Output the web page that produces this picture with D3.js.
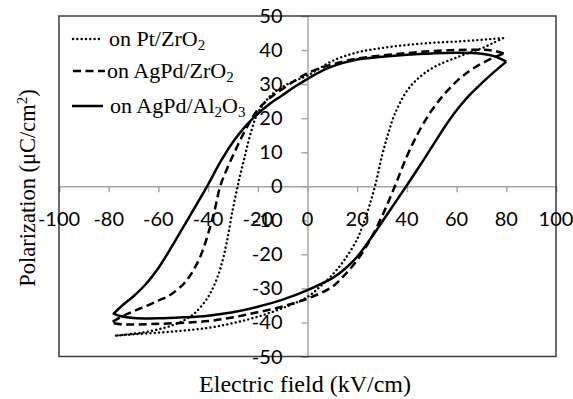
<!DOCTYPE html>
<html>
<head>
<meta charset="utf-8">
<script src="https://cdn.jsdelivr.net/npm/d3@7"></script>
<style>
  body { margin: 0; background: #fff; }
  #container { width: 573px; height: 399px; }
</style>
</head>
<body>
<div id="container"></div>
<script>
// tick values
let xTicks = [-100, -80, -60, -40, -20, 0, 20, 40, 60, 80, 100];
let yTicks = [-50, -40, -30, -20, -10, 0, 10, 20, 30, 40, 50];

// on Pt/ZrO2 (dotted) - upper branch (field going down), lower branch (field going up)
let ptUpE = [78.7, 75, 70, 60, 50, 40, 30, 20, 10, 0, -5, -10, -15, -20, -22.5, -25, -27.5, -30, -32.5, -35, -37.5, -40, -45, -50, -55, -60, -65, -70, -77.5];
let ptUpP = [43.5, 43.3, 43.0, 42.5, 42.1, 41.5, 40.6, 39.3, 36.8, 32.5, 31.0, 29.2, 26.5, 21.5, 16.5, 9.5, 2.0, -6.5, -16.5, -24.0, -29.0, -32.5, -37.0, -39.5, -41.0, -42.0, -42.8, -43.3, -43.9];
let ptLoE = [-77.5, -70, -60, -50, -40, -30, -20, -10, 0, 5, 10, 15, 20, 22.5, 25, 27.5, 30, 32.5, 35, 40, 45, 50, 55, 60, 65, 70, 75, 78.7];
let ptLoP = [-43.9, -43.5, -43.0, -42.4, -41.6, -40.2, -38.3, -35.8, -32.5, -29.5, -26.0, -21.5, -15.5, -11.0, -5.5, 1.0, 9.0, 15.5, 21.0, 28.0, 32.0, 34.6, 36.4, 37.8, 39.2, 40.5, 42.2, 43.5];

// on AgPd/ZrO2 (dashed)
let agzUpE = [79, 75, 70, 60, 50, 40, 30, 20, 10, 0, -10, -15, -20, -25, -30, -35, -37.5, -40, -42.5, -45, -47.5, -50, -55, -60, -65, -70, -75, -79];
let agzUpP = [39.0, 39.8, 40.1, 40.0, 39.7, 39.1, 38.4, 37.5, 35.8, 33.2, 28.6, 26.0, 22.5, 16.5, 9.0, 0.3, -7.5, -14.0, -19.5, -23.5, -26.5, -28.8, -31.8, -33.6, -35.2, -36.7, -38.4, -40.1];
let agzLoE = [-79, -75, -70, -60, -50, -40, -30, -20, -10, 0, 10, 15, 20, 25, 30, 35, 40, 45, 50, 55, 60, 65, 70, 75, 79];
let agzLoP = [-40.1, -40.5, -40.6, -40.4, -40.1, -39.6, -38.5, -37.0, -35.3, -33.0, -29.5, -26.0, -21.7, -16.0, -8.8, -0.3, 8.8, 16.3, 22.3, 27.0, 30.8, 33.8, 36.0, 37.8, 39.0];

// on AgPd/Al2O3 (solid)
let agaUpE = [80, 75, 70, 60, 50, 40, 30, 20, 10, 5, 0, -5, -10, -15, -20, -25, -30, -35, -40, -45, -50, -55, -60, -65, -70, -75, -78];
let agaUpP = [36.6, 38.2, 38.9, 39.2, 39.0, 38.6, 38.0, 37.2, 35.2, 33.6, 31.5, 29.3, 26.8, 24.3, 21.3, 17.6, 13.0, 7.2, 0.5, -5.8, -12.0, -18.2, -24.0, -28.7, -32.3, -35.3, -37.4];
let agaLoE = [-78, -75, -70, -60, -50, -40, -30, -20, -10, 0, 10, 15, 20, 25, 30, 35, 40, 45, 50, 55, 60, 65, 70, 75, 80];
let agaLoP = [-37.4, -38.2, -38.7, -38.8, -38.5, -38.0, -37.0, -35.4, -33.3, -30.5, -27.0, -24.3, -20.7, -15.8, -10.5, -5.1, 0.3, 5.8, 11.5, 17.2, 22.3, 26.6, 30.2, 33.5, 36.6];

let w = 573,
    h = 399;

let viz = d3.select('#container')
    .append('svg')
      .attr('width', w)
      .attr('height', h)
      .style('background', '#ffffff');

let plotL = 59, plotR = 556, plotT = 16, plotB = 356.5;

let x = d3.scaleLinear().domain([-100, 100]).range([plotL, plotR]);
let y = d3.scaleLinear().domain([-50, 50]).range([plotB, plotT]);

function pts(es, ps) {
    return es.map((e, i) => [e, ps[i]]);
}

function main() {
    let tickFont = 'Lato, "Open Sans", sans-serif';
    let serif = '"Liberation Serif", "Times New Roman", serif';

    // zero axes with ticks
    let xAxis = d3.axisBottom(x).tickValues(xTicks).tickSize(6).tickFormat('');
    viz.append('g')
        .attr('transform', 'translate(0,' + y(0) + ')')
        .call(xAxis)
        .call(g => g.selectAll('path, line').attr('stroke', '#a6a6a6').attr('stroke-width', 1.5));

    let yAxis = d3.axisLeft(y).tickValues(yTicks).tickSize(6).tickFormat('');
    viz.append('g')
        .attr('transform', 'translate(' + x(0) + ',0)')
        .call(yAxis)
        .call(g => g.selectAll('path, line').attr('stroke', '#a6a6a6').attr('stroke-width', 1.5));

    // frame
    viz.append('rect')
        .attr('x', plotL).attr('y', plotT)
        .attr('width', plotR - plotL).attr('height', plotB - plotT)
        .attr('fill', 'none')
        .attr('stroke', '#3c3c3c')
        .attr('stroke-width', 1.5);

    // tick labels
    viz.append('g').selectAll('text')
        .data(xTicks)
        .join('text')
        .attr('x', d => x(d))
        .attr('y', y(0) + 40)
        .attr('text-anchor', 'middle')
        .attr('font-family', tickFont)
        .attr('font-size', 20)
        .attr('fill', '#000')
        .text(d => d);

    viz.append('g').selectAll('text')
        .data(yTicks)
        .join('text')
        .attr('x', x(0) - 25)
        .attr('y', d => y(d) + 7)
        .attr('text-anchor', 'end')
        .attr('font-family', tickFont)
        .attr('font-size', 20)
        .attr('fill', '#000')
        .text(d => d);

    // loops
    let line = d3.line()
        .x(d => x(d[0]))
        .y(d => y(d[1]))
        .curve(d3.curveCatmullRom.alpha(0.5));

    function loopPath(upE, upP, loE, loP) {
        return line(pts(upE, upP)) + line(pts(loE, loP)).replace(/^M/, 'L');
    }

    let series = [
        { name: 'pt', d: loopPath(ptUpE, ptUpP, ptLoE, ptLoP), dash: '0.1,4.2', width: 2.4, cap: 'round' },
        { name: 'agz', d: loopPath(agzUpE, agzUpP, agzLoE, agzLoP), dash: '8,4.5', width: 2.5, cap: 'butt' },
        { name: 'aga', d: loopPath(agaUpE, agaUpP, agaLoE, agaLoP), dash: null, width: 2.5, cap: 'butt' }
    ];

    viz.append('g').selectAll('path')
        .data(series)
        .join('path')
        .attr('d', s => s.d)
        .attr('fill', 'none')
        .attr('stroke', '#000')
        .attr('stroke-width', s => s.width)
        .attr('stroke-linecap', s => s.cap)
        .attr('stroke-linejoin', 'round')
        .attr('stroke-dasharray', s => s.dash);

    // legend
    let legend = viz.append('g')
        .attr('font-family', serif)
        .attr('font-size', 22)
        .attr('fill', '#000');

    let items = [
        { y: 39, x1: 73, x2: 99, text: ['on Pt/ZrO', '2', ''], tx: 109, s: series[0] },
        { y: 71, x1: 73, x2: 105, text: ['on AgPd/ZrO', '2', ''], tx: 107, s: series[1] },
        { y: 106, x1: 72, x2: 103, text: ['on AgPd/Al', '2', 'O', '3'], tx: 110, s: series[2] }
    ];

    items.forEach(it => {
        legend.append('line')
            .attr('x1', it.x1).attr('x2', it.x2)
            .attr('y1', it.y).attr('y2', it.y)
            .attr('stroke', '#000')
            .attr('stroke-width', it.s.width)
            .attr('stroke-linecap', it.s.cap)
            .attr('stroke-dasharray', it.s.dash);
        let t = legend.append('text')
            .attr('x', it.tx)
            .attr('y', it.y + 7);
        it.text.forEach((part, i) => {
            if (part === '') return;
            let sp = t.append('tspan').text(part);
            if (i % 2 === 1) sp.attr('font-size', 15).attr('dy', 4);
            else if (i > 0) sp.attr('dy', -4);
        });
    });

    // axis titles
    viz.append('text')
        .attr('x', 305)
        .attr('y', 392)
        .attr('text-anchor', 'middle')
        .attr('font-family', serif)
        .attr('font-size', 24)
        .text('Electric field (kV/cm)');

    let yt = viz.append('text')
        .attr('transform', 'translate(35,' + 188 + ') rotate(-90)')
        .attr('text-anchor', 'middle')
        .attr('font-family', serif)
        .attr('font-size', 22.5);
    yt.append('tspan').text('Polarization (\u03bcC/cm');
    yt.append('tspan').attr('font-size', 15).attr('dy', -8).text('2');
    yt.append('tspan').attr('dy', 8).text(')');
}

main();
</script>
</body>
</html>
